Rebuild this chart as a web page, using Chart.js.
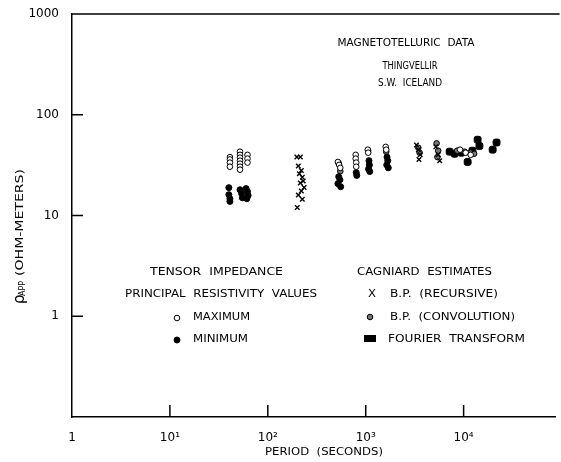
<!DOCTYPE html>
<html>
<head>
<meta charset="utf-8">
<script src="https://cdn.jsdelivr.net/npm/chart.js@4/dist/chart.umd.min.js"></script>
<style>
  html, body { margin: 0; padding: 0; background: #fff; }
  #wrap { width: 561px; height: 462px; }
</style>
</head>
<body>
<div id="wrap"><canvas id="grafico"></canvas></div>
<script>
// ticks
const xTickValues = [1, 10, 100, 1000, 10000];
const xTickLabels = ['1', '10¹', '10²', '10³', '10⁴'];
const yTickValues = [1, 10, 100, 1000];
const yTickLabels = ['1', '10', '100', '1000'];

// tensor impedance, maximum principal resistivity (open circles)
const periodMax = [41, 41, 41, 41, 52, 52, 52, 52, 52, 52, 52, 62, 62, 62,
  520, 535, 550, 790, 790, 800, 800, 1050, 1060, 1600, 1620, 9200, 10500, 11800];
const rhoMax = [38, 36, 33.5, 30.5, 43, 40, 37.5, 35, 32.7, 30.5, 28.5, 40, 36.7, 33.5,
  34, 31.8, 29.7, 40, 36.7, 33.5, 30.5, 45, 42, 48, 45, 45, 42, 40];

// tensor impedance, minimum principal resistivity (filled circles)
const periodMin = [40, 40, 41, 41, 52, 54, 55, 60, 62, 63, 61,
  530, 545, 520, 555, 800, 810, 1080, 1090, 1070, 1100, 1650, 1680, 1640, 1700];
const rhoMin = [18.9, 16.1, 14.7, 13.8, 18, 16.5, 15, 18.5, 17.3, 15.8, 14.7,
  24.3, 22.6, 20.7, 19.3, 26.7, 25, 35, 31.8, 29, 27.3, 38, 35, 31.8, 29.7];

// cagniard B.P. recursive (crosses)
const periodRec = [198, 215, 205, 220, 210, 225, 230, 215, 235, 220, 205, 225, 200,
  3300, 3450, 3600, 3500, 5200, 5500, 5700];
const rhoRec = [38, 38, 31, 28, 26, 24, 22, 21, 19, 17.5, 16, 14.5, 12,
  50, 45, 40, 36, 48, 40, 35];

// cagniard B.P. convolution (dotted circles)
const periodConv = [530, 550, 1060, 1620, 3450, 3550, 5300, 5500, 5400, 8600, 10200, 11800, 12800];
const rhoConv = [33, 27.5, 44, 43, 47, 42, 52, 44, 38, 44, 43, 42, 41];

// cagniard fourier transform (filled blocks)
const periodFt = [7200, 8100, 9500, 11000, 12300, 13900, 14500, 19800, 21700];
const rhoFt = [43, 41, 42, 34, 44, 56.5, 49, 45, 53];

function pares(xs, ys) {
  return xs.map((x, i) => ({x: x, y: ys[i]}));
}

// desenha texto ajustando a largura ao original
function texto(ctx, s, x, y, largura, alinhar) {
  ctx.save();
  const w = ctx.measureText(s).width;
  const k = largura ? largura / w : 1;
  let x0 = x;
  if (alinhar === 'center') x0 = x - (w * k) / 2;
  ctx.translate(x0, y);
  ctx.scale(k, 1);
  ctx.textAlign = 'left';
  ctx.textBaseline = 'middle';
  ctx.fillText(s, 0, 0);
  ctx.restore();
}

const FONTE = '"DejaVu Sans", sans-serif';

const molduraPlugin = {
  id: 'moldura',
  afterDraw(chart) {
    const ctx = chart.ctx;
    const a = chart.chartArea;
    const sx = chart.scales.x, sy = chart.scales.y;
    ctx.save();
    ctx.strokeStyle = '#000';
    ctx.lineWidth = 1.5;
    // linha superior
    ctx.beginPath();
    ctx.moveTo(a.left, a.top);
    ctx.lineTo(a.right + 4, a.top);
    ctx.stroke();
    // marcas para dentro
    for (const v of xTickValues) {
      if (v === sx.min) continue;
      const px = sx.getPixelForValue(v);
      ctx.beginPath();
      ctx.moveTo(px, a.bottom);
      ctx.lineTo(px, a.bottom - 12);
      ctx.stroke();
    }
    for (const v of yTickValues) {
      if (v === sy.max) continue;
      const py = sy.getPixelForValue(v);
      ctx.beginPath();
      ctx.moveTo(a.left, py);
      ctx.lineTo(a.left + 11, py);
      ctx.stroke();
    }

    ctx.fillStyle = '#000';
    ctx.font = '11px ' + FONTE;
    // cabeçalho
    texto(ctx, 'MAGNETOTELLURIC  DATA', 406, 43, 137, 'center');
    texto(ctx, 'THINGVELLIR', 410, 66, 55, 'center');
    texto(ctx, 'S.W.  ICELAND', 410, 83, 64, 'center');

    // legenda
    texto(ctx, 'TENSOR  IMPEDANCE', 150, 272, 133);
    texto(ctx, 'PRINCIPAL  RESISTIVITY  VALUES', 125, 294, 192);
    texto(ctx, 'MAXIMUM', 193, 317, 57);
    texto(ctx, 'MINIMUM', 193, 339, 55);
    texto(ctx, 'CAGNIARD  ESTIMATES', 357, 272, 135);
    texto(ctx, 'X', 368, 294, 8);
    texto(ctx, 'B.P.  (RECURSIVE)', 390, 294, 108);
    texto(ctx, 'B.P.  (CONVOLUTION)', 390, 317, 125);
    texto(ctx, 'FOURIER  TRANSFORM', 388, 339, 137);

    const ds = chart.data.datasets;
    const simbolo = (d, x, y) => {
      ctx.strokeStyle = d.borderColor;
      ctx.fillStyle = d.backgroundColor;
      ctx.lineWidth = d.borderWidth;
      Chart.helpers.drawPoint(ctx, {pointStyle: d.pointStyle, radius: d.pointRadius, rotation: 0, borderWidth: d.borderWidth}, x, y);
    };
    simbolo(ds[0], 177, 318);
    simbolo(ds[1], 177, 340);
    simbolo(ds[3], 370, 317);
    ctx.fillStyle = '#000';
    ctx.fillRect(364, 335, 12, 7);

    // titulo do eixo y (com subscrito)
    ctx.save();
    ctx.translate(20, 236);
    ctx.rotate(-Math.PI / 2);
    ctx.fillStyle = '#000';
    ctx.textBaseline = 'middle';
    ctx.font = '15px ' + FONTE;
    ctx.fillText('ρ', -68, 0);
    ctx.font = '8px ' + FONTE;
    ctx.fillText('APP', -60, 3);
    ctx.restore();
    ctx.save();
    ctx.translate(20, 236);
    ctx.rotate(-Math.PI / 2);
    ctx.font = '11px ' + FONTE;
    ctx.fillStyle = '#000';
    texto(ctx, '(OHM-METERS)', -40, 0, 107);
    ctx.restore();

    // titulo do eixo x
    ctx.font = '11px ' + FONTE;
    texto(ctx, 'PERIOD  (SECONDS)', 324, 452, 118, 'center');
    ctx.restore();
  }
};

new Chart(document.getElementById('grafico'), {
  type: 'scatter',
  data: {
    datasets: [
      {label: 'MAXIMUM', data: pares(periodMax, rhoMax), pointStyle: 'circle', pointRadius: 2.8,
        borderColor: '#000', backgroundColor: '#fff', borderWidth: 1},
      {label: 'MINIMUM', data: pares(periodMin, rhoMin), pointStyle: 'circle', pointRadius: 3,
        borderColor: '#000', backgroundColor: '#000', borderWidth: 1},
      {label: 'B.P. (RECURSIVE)', data: pares(periodRec, rhoRec), pointStyle: 'crossRot', pointRadius: 3.2,
        borderColor: '#000', backgroundColor: '#000', borderWidth: 1.4},
      {label: 'B.P. (CONVOLUTION)', data: pares(periodConv, rhoConv), pointStyle: 'circle', pointRadius: 2.8,
        borderColor: '#000', backgroundColor: '#777', borderWidth: 1},
      {label: 'FOURIER TRANSFORM', data: pares(periodFt, rhoFt), pointStyle: 'rectRounded', pointRadius: 4,
        borderColor: '#000', backgroundColor: '#000', borderWidth: 1}
    ]
  },
  options: {
    animation: false,
    responsive: true,
    maintainAspectRatio: false,
    layout: {padding: {top: 14, right: 1, left: 0, bottom: 0}},
    scales: {
      x: {
        type: 'logarithmic',
        min: 1,
        max: 87000,
        afterBuildTicks: (scale) => { scale.ticks = xTickValues.map(v => ({value: v})); },
        afterFit: (scale) => {
          scale.height = 45;
          scale.paddingLeft = 0;
          scale.paddingRight = 0;
        },
        grid: {display: false, drawTicks: false},
        border: {display: true, color: '#000', width: 1.5},
        ticks: {
          padding: 14,
          color: '#000',
          maxRotation: 0,
          autoSkip: false,
          font: {family: FONTE, size: 12},
          callback: (v) => { const i = xTickValues.indexOf(v); return i >= 0 ? xTickLabels[i] : ''; }
        }
      },
      y: {
        type: 'logarithmic',
        min: 0.1,
        max: 1000,
        afterBuildTicks: (scale) => { scale.ticks = yTickValues.map(v => ({value: v})); },
        afterFit: (scale) => {
          scale.width = 72;
          scale.paddingTop = 0;
          scale.paddingBottom = 0;
        },
        grid: {display: false, drawTicks: false},
        border: {display: true, color: '#000', width: 1.5},
        ticks: {
          padding: 13,
          color: '#000',
          autoSkip: false,
          font: {family: FONTE, size: 12},
          callback: (v) => { const i = yTickValues.indexOf(v); return i >= 0 ? yTickLabels[i] : ''; }
        }
      }
    },
    plugins: {
      legend: {display: false},
      tooltip: {enabled: false}
    }
  },
  plugins: [molduraPlugin]
});
</script>
</body>
</html>
